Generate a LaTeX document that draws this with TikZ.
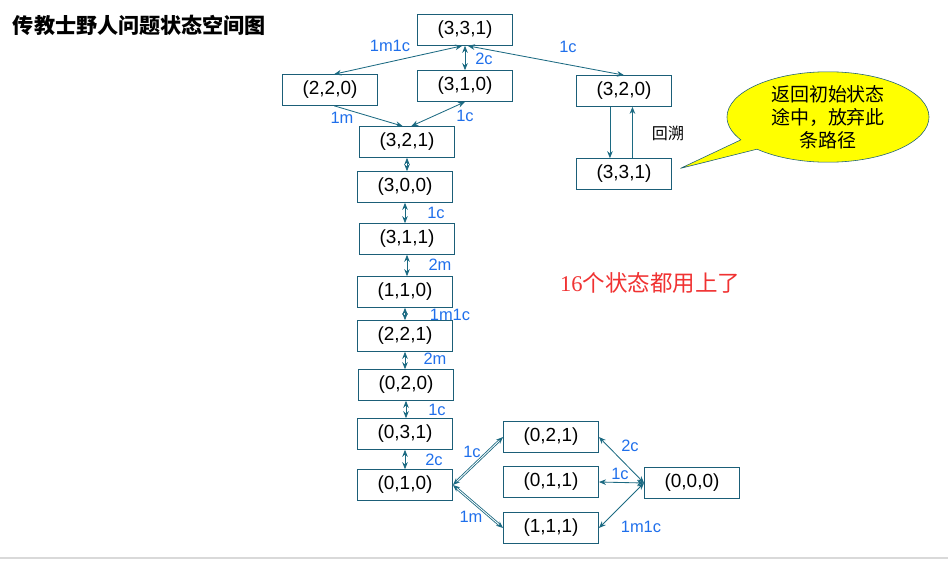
\documentclass[tikz,border=0pt]{standalone}
\usepackage{fontspec}
\setmainfont{Liberation Sans}
\newfontfamily\cjk{Noto Sans CJK SC}
\newfontfamily\numserif{Liberation Serif}
\usetikzlibrary{arrows.meta,positioning,shapes.callouts}
\definecolor{boxline}{RGB}{27,94,120}
\definecolor{edgeline}{RGB}{28,106,130}
\definecolor{movetext}{RGB}{31,111,235}
\definecolor{notered}{RGB}{240,50,50}
\definecolor{calloutfill}{RGB}{255,255,0}

\begin{document}
\begin{tikzpicture}[
  x=0.025cm, y=-0.025cm,
  >={Stealth[length=5pt,width=4pt]},
  state/.style={rectangle,draw=boxline,semithick,minimum width=2.375cm,minimum height=0.77cm,inner sep=0pt,font=\fontsize{13.5}{14}\selectfont},
  move/.style={draw=edgeline,semithick},
  lbl/.style={text=movetext,inner sep=0pt,font=\fontsize{11.7}{12}\selectfont},
]
\useasboundingbox (0,0) rectangle (948,561);

\node [anchor=west,font=\cjk\bfseries\fontsize{15}{16}\selectfont] (title) at (8,25) {传教士野人问题状态空间图};

% states
\node [state] (s331) at (465,30) {(3,3,1)};
\node [state] (s220) at (330,90) {(2,2,0)};
\node [state] (s310) at (465,86) {(3,1,0)};
\node [state] (s320) at (624,91) {(3,2,0)};
\node [state] (s331b) at (624,174) {(3,3,1)};
\node [state] (s321) at (407,142) {(3,2,1)};
\node [state] (s300) at (405,187) {(3,0,0)};
\node [state] (s311) at (407,239) {(3,1,1)};
\node [state] (s110) at (405,292) {(1,1,0)};
\node [state] (s221) at (405,336) {(2,2,1)};
\node [state] (s020) at (406,385) {(0,2,0)};
\node [state] (s031) at (405,434) {(0,3,1)};
\node [state] (s010) at (405,485) {(0,1,0)};
\node [state] (s021) at (551,437) {(0,2,1)};
\node [state] (s011) at (551,482) {(0,1,1)};
\node [state] (s111) at (551,528) {(1,1,1)};
\node [state] (s000) at (692,483) {(0,0,0)};

% moves
\draw [move,<->] ([xshift=-2pt]s331.south) -- ([xshift=3pt]s220.north);
\draw [move,<->] (s331.south) -- (s310.north);
\draw [move,<->] ([xshift=2pt]s331.south) -- (s320.north);
\draw [move,->] ([xshift=3pt]s220.south) -- ([xshift=-3pt]s321.north);
\draw [move,<->] (s310.south) -- ([xshift=3pt]s321.north);
\draw [move,->] ([xshift=-10pt]s320.south) -- ([xshift=-10pt]s331b.north);
\draw [move,<-] ([xshift=6pt]s320.south) -- ([xshift=6pt]s331b.north);
\draw [move,<->] (s321.south) -- (s321.south |- s300.north);
\draw [move,<->] (s300.south) -- (s300.south |- s311.north);
\draw [move,<->] (s311.south) -- (s311.south |- s110.north);
\draw [move,<->] (s110.south) -- (s110.south |- s221.north);
\draw [move,<->] (s221.south) -- (s221.south |- s020.north);
\draw [move,<->] (s020.south) -- (s020.south |- s031.north);
\draw [move,<->] (s031.south) -- (s031.south |- s010.north);
\draw [move,<->,double distance=0.6pt] (s010.east) -- (s021.west);
\draw [move,<->,double distance=0.6pt] (s010.east) -- (s111.west);
\draw [move,<->] (s000.west) -- (s021.east);
\draw [move,<->] (s000.west) -- (s011.east);
\draw [move,<->] (s000.west) -- (s111.east);

% move labels
\node [lbl] (m1) at (390,46) {1m1c};
\node [lbl] (m2) at (484,59) {2c};
\node [lbl] (m3) at (568,47) {1c};
\node [lbl] (m4) at (342,118) {1m};
\node [lbl] (m5) at (465,116) {1c};
\node [lbl] (m6) at (436,213) {1c};
\node [lbl] (m7) at (440,265) {2m};
\node [lbl] (m8) at (450,315) {1m1c};
\node [lbl] (m9) at (435,359) {2m};
\node [lbl] (m10) at (437,410) {1c};
\node [lbl] (m11) at (434,460) {2c};
\node [lbl] (m12) at (472,452) {1c};
\node [lbl] (m13) at (471,517) {1m};
\node [lbl] (m14) at (630,446) {2c};
\node [lbl] (m15) at (620,474) {1c};
\node [lbl] (m16) at (641,527) {1m1c};

\node [font=\cjk\fontsize{11.4}{12}\selectfont] (back) at (668,133) {回溯};

% callout
\node [ellipse callout,draw=boxline,fill=calloutfill,minimum width=5.05cm,minimum height=2.2cm,
  callout absolute pointer={(s331b.east)+(6pt,4pt)},align=center,inner sep=0pt,
  font=\cjk\fontsize{13.5}{16.5}\selectfont] (note) at (828,117) {返回初始状态\\途中，放弃此\\条路径};

\node [text=notered,font=\fontsize{16}{17}\selectfont] (all) at (650,283) {\numserif 16\cjk 个状态都用上了};

\draw [black!15,thick] (0,558) -- (948,558);
\end{tikzpicture}
\end{document}
